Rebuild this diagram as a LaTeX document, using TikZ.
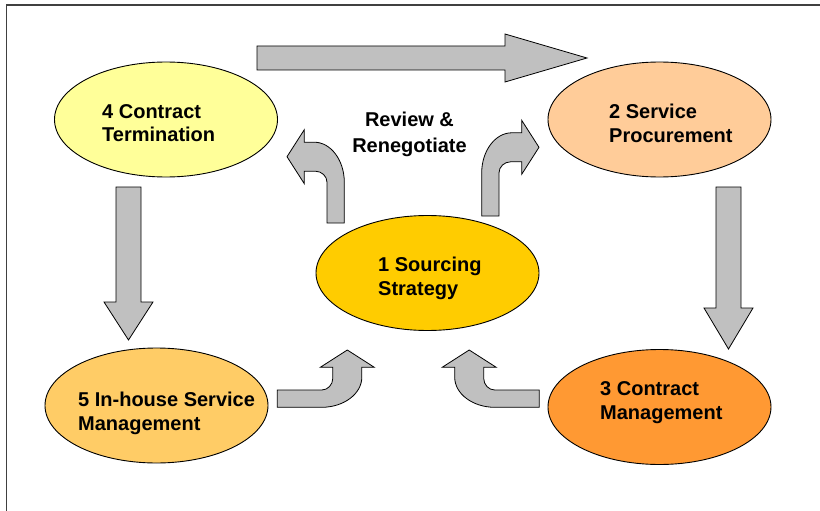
\documentclass[tikz,border=0pt]{standalone}
\usepackage{fontspec}
\setmainfont{Liberation Sans}
\usetikzlibrary{shapes.geometric}
\definecolor{stageA}{HTML}{FFCC00}
\definecolor{stageB}{HTML}{FFCC99}
\definecolor{stageC}{HTML}{FF9933}
\definecolor{stageD}{HTML}{FFFF99}
\definecolor{stageE}{HTML}{FFCC66}
\definecolor{arrowgrey}{HTML}{C0C0C0}
\definecolor{framegrey}{HTML}{404040}
\begin{document}
\begin{tikzpicture}[x=1pt,y=-1pt,
  stage/.style={ellipse, draw=black, line width=0.9pt, inner sep=0pt,
    minimum width=223pt, minimum height=115pt},
  lbl/.style={anchor=base west, inner sep=0pt,
    font=\fontsize{20}{24}\selectfont\bfseries},
  blockarrow/.style={draw=black, line width=0.8pt, fill=arrowgrey, line join=miter},
  frameline/.style={draw=framegrey, line width=1.4pt},
  % curved block arrow: head points up from the origin, tail runs left
  bendarrow/.pic={
    \draw[blockarrow] (0,-17.3) -- (27,0) -- (14.5,0) -- (14.5,10)
      .. controls (14.5,26.5) and (-3.6,40) .. (-25.5,40)
      -- (-#1,40) -- (-#1,22.7) -- (-25.5,22.7)
      .. controls (-19.5,22.7) and (-14.5,17.4) .. (-14.5,11)
      -- (-14.5,0) -- (-27,0) -- cycle;
  }]
\useasboundingbox (0,0) rectangle (820,511);

% page frame
\coordinate (fbl) at (6.5,511);
\coordinate (ftl) at (6.5,5);
\coordinate (ftr) at (820,5);
\draw[frameline] (fbl) -- (ftl) -- (ftr);

% stages
\node[stage, fill=stageD] (s4) at (166,119.5) {};
\node[stage, fill=stageB] (s2) at (659.5,119.5) {};
\node[stage, fill=stageA] (s1) at (427.5,273) {};
\node[stage, fill=stageE] (s5) at (156.5,405.5) {};
\node[stage, fill=stageC] (s3) at (659.5,407) {};

\node[lbl] (t4) at (102,118) {\begin{tabular}[t]{@{}l@{}}4 Contract\\Termination\end{tabular}};
\node[lbl] (t2) at (609,118.5) {\begin{tabular}[t]{@{}l@{}}2 Service\\Procurement\end{tabular}};
\node[lbl] (t1) at (378,271) {\begin{tabular}[t]{@{}l@{}}1 Sourcing\\Strategy\end{tabular}};
\node[lbl] (t3) at (600,395) {\begin{tabular}[t]{@{}l@{}}3 Contract\\Management\end{tabular}};
\node[lbl] (t5) at (78,406) {\begin{tabular}[t]{@{}l@{}}5 In-house Service\\Management\end{tabular}};
\node[lbl, anchor=base] (review) at (409.5,127)
  {\begin{tabular}[t]{@{}c@{}}Review \&\\[1pt]Renegotiate\end{tabular}};

% straight block arrows around the cycle
\draw[blockarrow] (257,46) -- (505,46) -- (505,34) -- (587,58) -- (505,82)
  -- (505,70) -- (257,70) -- cycle;
\draw[blockarrow] (116,187) -- (141,187) -- (141,302) -- (153,302) -- (128.5,340)
  -- (104,302) -- (116,302) -- cycle;
\draw[blockarrow] (716,187) -- (741,187) -- (741,308) -- (753,308) -- (728.5,349)
  -- (704,308) -- (716,308) -- cycle;

% curved arrows into and out of the sourcing strategy
\path (347.3,367.3) pic {bendarrow=70};
\path (469.2,367.3) pic[xscale=-1] {bendarrow=70};
\path (304.3,156.7) pic[rotate=90] {bendarrow=66.3};
\path (521.7,147.3) pic[xscale=-1, rotate=90] {bendarrow=68.7};
\end{tikzpicture}
\end{document}
